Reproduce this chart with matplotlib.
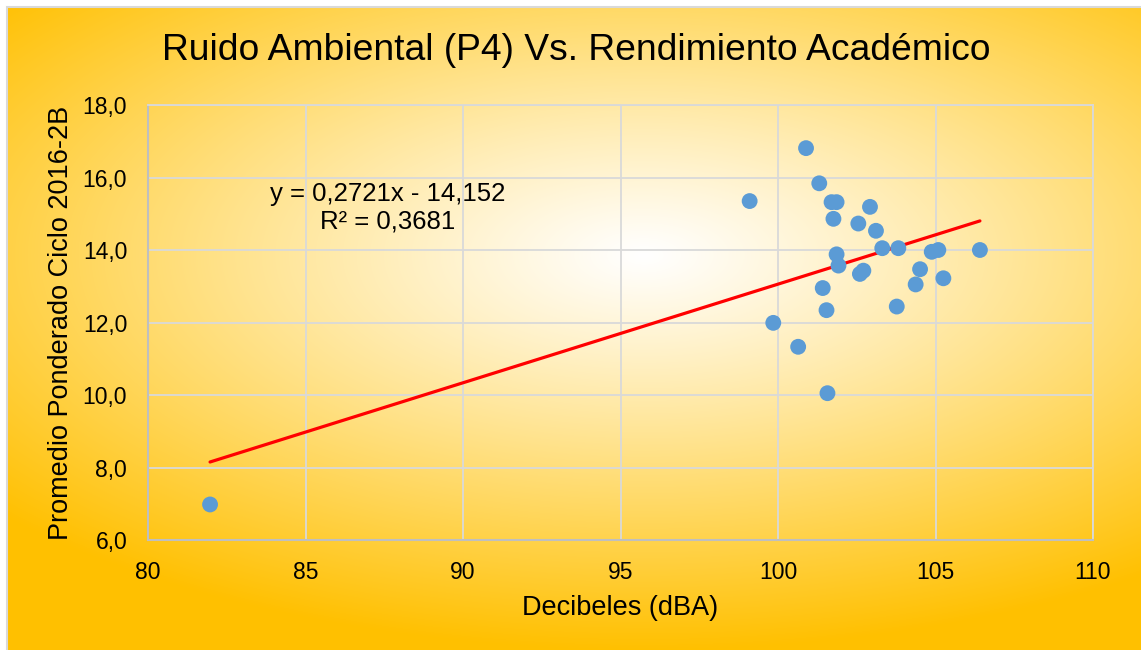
import numpy as np
import matplotlib
matplotlib.use('Agg')
import matplotlib.pyplot as plt
from matplotlib.ticker import FuncFormatter, MultipleLocator

plt.rcParams['font.family'] = ['Liberation Sans', 'DejaVu Sans']

# data: decibels (x) vs weighted average (y)
decibeles = [81.97, 99.10, 99.85, 100.64, 100.89, 101.31, 101.42, 101.54, 101.57,
             101.70, 101.76, 101.86, 101.86, 101.92, 102.55, 102.60, 102.71, 102.92,
             103.11, 103.31, 103.77, 103.82, 104.37, 104.51, 104.88, 105.09, 105.25,
             106.41]
promedio = [6.98, 15.35, 11.99, 11.33, 16.81, 15.84, 12.95, 12.34, 10.05,
            15.32, 14.86, 15.32, 13.88, 13.57, 14.73, 13.34, 13.43, 15.19,
            14.53, 14.05, 12.44, 14.05, 13.05, 13.47, 13.95, 14.00, 13.22,
            14.00]

# linear trendline reported on the chart
pendiente = 0.2721
intercepto = -14.152
r2 = 0.3681

W, H = 1141, 650
fig = plt.figure(figsize=(W / 100, H / 100), dpi=100)

# radial gold gradient for the chart area
bg = fig.add_axes([8 / W, 0, 1 - 8 / W, 1 - 8 / H], zorder=-2)
yy, xx = np.mgrid[0:H, 0:W]
t = np.sqrt(((xx - 640) / 860.0) ** 2 + ((yy - 250) / 400.0) ** 2)
t = np.clip(t, 0, 1) ** 1.1
white = np.array([1.0, 1.0, 1.0])
gold = np.array([1.0, 0.753, 0.0])
img = white[None, None, :] * (1 - t[..., None]) + gold[None, None, :] * t[..., None]
bg.imshow(img, aspect='auto', extent=[0, 1, 0, 1], origin='upper')
bg.set_axis_off()
fig.patches.append(plt.Rectangle((7 / W, -0.01), 1.1, 1 - 7 / H + 0.01,
                                 transform=fig.transFigure, fill=False,
                                 edgecolor='#D9D9D9', linewidth=1.5, zorder=-1))

ax = fig.add_axes([148 / W, 110 / H, (1093 - 148) / W, (540 - 105) / H])
ax.patch.set_alpha(0)

ax.scatter(decibeles, promedio, s=130, color='#5B9BD5', edgecolors='none', zorder=3)

xt = np.array([min(decibeles), max(decibeles)])
ax.plot(xt, pendiente * xt + intercepto, color='#FF0000', linewidth=2.3, zorder=2,
        solid_capstyle='round')

ax.set_xlim(80, 110)
ax.set_ylim(6, 18)
ax.xaxis.set_major_locator(MultipleLocator(5))
ax.yaxis.set_major_locator(MultipleLocator(2))
ax.yaxis.set_major_formatter(FuncFormatter(lambda v, p: f'{v:.1f}'.replace('.', ',')))
ax.grid(True, color='#D9D9D9', linewidth=1.3, zorder=0)
ax.set_axisbelow(True)
for side in ['top', 'right']:
    ax.spines[side].set_color('#D9D9D9')
    ax.spines[side].set_linewidth(1.3)
for side in ['left', 'bottom']:
    ax.spines[side].set_color('#BFBFBF')
    ax.spines[side].set_linewidth(1.5)
ax.tick_params(length=0, labelsize=16.5, pad=15)

ax.set_xlabel('Decibeles (dBA)', fontsize=19.5, labelpad=8)
ax.set_ylabel('Promedio Ponderado Ciclo 2016-2B', fontsize=19.5, labelpad=6)

ax.text(87.62, 15.17, f'y = {pendiente:.4f}x - {abs(intercepto):.3f}'.replace('.', ',')
        + '\n' + f'R² = {r2:.4f}'.replace('.', ','),
        ha='center', va='center', fontsize=18.5, linespacing=1.2)

fig.text(0.505, 1 - 51 / H, 'Ruido Ambiental (P4) Vs. Rendimiento Académico',
         ha='center', va='center', fontsize=26.8)

fig.savefig('out.png', dpi=100)
